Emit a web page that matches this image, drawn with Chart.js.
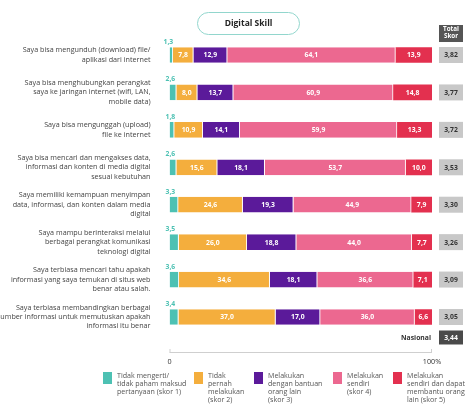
<!DOCTYPE html>
<html>
<head>
<meta charset="utf-8">
<script src="https://cdn.jsdelivr.net/npm/chart.js@4.4.0/dist/chart.umd.min.js"></script>
<style>
  html, body { margin: 0; padding: 0; background: #fff; }
  #wrap { width: 474px; height: 415px; position: relative; }
</style>
</head>
<body>
<div id="wrap"><canvas id="canvas"></canvas></div>
<script>
var labels = [
  ["Saya bisa mengunduh (download) file/", "aplikasi dari internet"],
  ["Saya bisa menghubungkan perangkat", "saya ke jaringan internet (wifi, LAN,", "mobile data)"],
  ["Saya bisa mengunggah (upload)", "file ke internet"],
  ["Saya bisa mencari dan mengakses data,", "informasi dan konten di media digital", "sesuai kebutuhan"],
  ["Saya memiliki kemampuan menyimpan", "data, informasi, dan konten dalam media", "digital"],
  ["Saya mampu berinteraksi melalui", "berbagai perangkat komunikasi", "teknologi digital"],
  ["Saya terbiasa mencari tahu apakah", "informasi yang saya temukan di situs web", "benar atau salah."],
  ["Saya terbiasa membandingkan berbagai", "sumber informasi untuk memutuskan apakah", "informasi itu benar"]
];

var skor1 = [1.3, 2.6, 1.8, 2.6, 3.3, 3.5, 3.6, 3.4];
var skor2 = [7.8, 8.0, 10.9, 15.6, 24.6, 26.0, 34.6, 37.0];
var skor3 = [12.9, 13.7, 14.1, 18.1, 19.3, 18.8, 18.1, 17.0];
var skor4 = [64.1, 60.9, 59.9, 53.7, 44.9, 44.0, 36.6, 36.0];
var skor5 = [13.9, 14.8, 13.3, 10.0, 7.9, 7.7, 7.1, 6.6];

var totalSkor = [3.82, 3.77, 3.72, 3.53, 3.30, 3.26, 3.09, 3.05];
var nasional = 3.44;

var legendText = [
  ["Tidak mengerti/", "tidak paham maksud", "pertanyaan (skor 1)"],
  ["Tidak", "pernah", "melakukan", "(skor 2)"],
  ["Melakukan", "dengan bantuan", "orang lain", "(skor 3)"],
  ["Melakukan", "sendiri", "(skor 4)"],
  ["Melakukan", "sendiri dan dapat", "membantu orang", "lain (skor 5)"]
];

var colors = ["#4dc1b3", "#f4ae3d", "#5b1a9a", "#ec6890", "#e3304f"];
var FONT = "'Open Sans', Lato, sans-serif";

function fmt(v) {
  return v.toFixed(1).replace(".", ",");
}
function fmt2(v) {
  return v.toFixed(2).replace(".", ",");
}

function roundRect(ctx, x, y, w, h, r) {
  ctx.beginPath();
  ctx.moveTo(x + r, y);
  ctx.lineTo(x + w - r, y);
  ctx.arcTo(x + w, y, x + w, y + r, r);
  ctx.lineTo(x + w, y + h - r);
  ctx.arcTo(x + w, y + h, x + w - r, y + h, r);
  ctx.lineTo(x + r, y + h);
  ctx.arcTo(x, y + h, x, y + h - r, r);
  ctx.lineTo(x, y + r);
  ctx.arcTo(x, y, x + r, y, r);
  ctx.closePath();
}

// extras: value labels, score boxes, title, axis and legend
var extras = {
  id: 'extras',
  afterDatasetsDraw: function(chart) {
    var ctx = chart.ctx;
    var xs = chart.scales.x;
    var ys = chart.scales.y;
    ctx.save();

    // values inside bars
    ctx.textAlign = 'center';
    ctx.textBaseline = 'middle';
    ctx.font = "bold 6.8px " + FONT;
    ctx.fillStyle = '#fff';
    for (var d = 1; d < chart.data.datasets.length; d++) {
      var meta = chart.getDatasetMeta(d);
      meta.data.forEach(function(bar, i) {
        var v = chart.data.datasets[d].data[i];
        ctx.fillText(fmt(v), (bar.x + bar.base) / 2, bar.y + 0.5);
      });
    }

    // teal values above first segment
    ctx.fillStyle = colors[0];
    ctx.textAlign = 'left';
    ctx.font = "bold 6.8px " + FONT;
    var m0 = chart.getDatasetMeta(0);
    m0.data.forEach(function(bar, i) {
      ctx.fillText(fmt(skor1[i]), xs.getPixelForValue(0) - 6 + (i > 0 ? 2 : 0), bar.y - 13);
    });

    // total score boxes
    var bx = xs.getPixelForValue(100) + 7, bw = 24;
    ctx.textAlign = 'center';
    totalSkor.forEach(function(s, i) {
      var y = ys.getPixelForValue(i);
      ctx.fillStyle = '#c8c8c8';
      ctx.fillRect(bx, y - 8, bw, 16);
      ctx.fillStyle = '#333';
      ctx.font = "bold 6.8px " + FONT;
      ctx.fillText(fmt2(s), bx + bw / 2, y + 0.5);
    });

    // header box
    var y0 = ys.getPixelForValue(0);
    ctx.fillStyle = '#555';
    ctx.fillRect(bx, y0 - 30, bw, 17);
    ctx.fillStyle = '#fff';
    ctx.font = "bold 6.3px " + FONT;
    ctx.fillText("Total", bx + bw / 2, y0 - 25.5);
    ctx.fillText("Skor", bx + bw / 2, y0 - 18.5);

    // nasional
    var yn = ys.getPixelForValue(totalSkor.length - 1) + 20.5;
    ctx.fillStyle = '#4a4a4a';
    ctx.fillRect(bx, yn - 7, bw, 14);
    ctx.fillStyle = '#fff';
    ctx.font = "bold 6.8px " + FONT;
    ctx.fillText(fmt2(nasional), bx + bw / 2, yn + 0.5);
    ctx.fillStyle = '#333';
    ctx.textAlign = 'right';
    ctx.font = "bold 6.8px " + FONT;
    ctx.fillText("Nasional", xs.getPixelForValue(100) - 1, yn + 0.5);

    // axis line
    var x0 = xs.getPixelForValue(0), x1 = xs.getPixelForValue(100);
    var ay = 352;
    ctx.strokeStyle = '#cfcfcf';
    ctx.lineWidth = 1;
    ctx.beginPath();
    ctx.moveTo(x0, ay + 0.5);
    ctx.lineTo(x1, ay + 0.5);
    ctx.moveTo(x0 + 0.5, ay - 3);
    ctx.lineTo(x0 + 0.5, ay + 0.5);
    ctx.moveTo(x1 - 0.5, ay - 3);
    ctx.lineTo(x1 - 0.5, ay + 0.5);
    ctx.stroke();
    ctx.fillStyle = '#333';
    ctx.textAlign = 'center';
    ctx.font = "7.2px " + FONT;
    ctx.fillText("0", x0, ay + 9.5);
    ctx.fillText("100%", x1, ay + 9.5);

    // title pill
    roundRect(ctx, 197.5, 12.5, 102, 22, 11);
    ctx.strokeStyle = '#92d6cd';
    ctx.lineWidth = 1;
    ctx.stroke();
    ctx.fillStyle = '#222';
    ctx.font = "bold 8.5px " + FONT;
    ctx.fillText("Digital Skill", 248.5, 24);

    // legend
    var lx = [103, 194, 254, 333, 393];
    ctx.textAlign = 'left';
    ctx.font = "7.1px " + FONT;
    legendText.forEach(function(lines, k) {
      ctx.fillStyle = colors[k];
      ctx.fillRect(lx[k], 372, 9, 12);
      ctx.fillStyle = '#555';
      lines.forEach(function(t, j) {
        ctx.fillText(t, lx[k] + 14, 375.5 + j * 8);
      });
    });

    ctx.restore();
  }
};

var series = [skor1, skor2, skor3, skor4, skor5];
var config = {
  type: 'bar',
  data: {
    labels: labels,
    datasets: series.map(function(s, k) {
      return {
        label: legendText[k].join(' '),
        data: s,
        backgroundColor: colors[k],
        borderColor: '#ffffff',
        borderWidth: { top: 0, bottom: 0, left: 0, right: k < 4 ? 0.8 : 0 },
        borderSkipped: false,
        categoryPercentage: 1,
        barPercentage: 0.42
      };
    })
  },
  options: {
    indexAxis: 'y',
    responsive: false,
    animation: false,
    layout: { padding: { left: 0, right: 42, top: 36.3, bottom: 79.3 } },
    plugins: {
      legend: { display: false },
      tooltip: { enabled: false }
    },
    scales: {
      x: { stacked: true, min: 0, max: 100, display: false },
      y: {
        stacked: true,
        grid: { display: false },
        border: { display: false },
        afterFit: function(scale) { scale.width = 169.5; },
        ticks: {
          padding: 11,
          color: '#444',
          font: { family: FONT, size: 7.2, lineHeight: 1.3 }
        }
      }
    }
  },
  plugins: [extras]
};

window.onload = function() {
  var c = document.getElementById("canvas");
  c.width = 474;
  c.height = 415;
  c.style.width = '474px';
  c.style.height = '415px';
  window.myBar = new Chart(c, config);
};
</script>
</body>
</html>
